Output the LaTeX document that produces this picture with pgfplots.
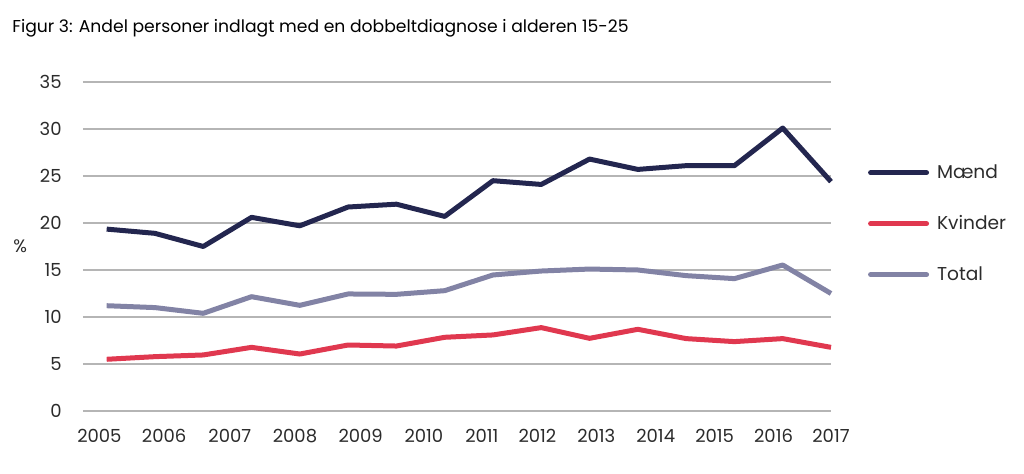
\documentclass[border=0pt]{standalone}
\usepackage{fontspec}
\setmainfont{Poppins}
\usepackage{pgfplots}
\pgfplotsset{compat=1.18}

\definecolor{maend}{HTML}{23264F}
\definecolor{kvinder}{HTML}{E0384F}
\definecolor{total}{HTML}{8283A5}
\definecolor{gridgrey}{HTML}{B5B5B5}
\definecolor{labelgrey}{HTML}{2B2B2B}

% Three series, 16 observations each, equally spaced along the x axis
\pgfplotstableread{
x  maend  kvinder total
0  19.35  5.50   11.20
1  18.90  5.78   11.00
2  17.50  5.96   10.39
3  20.60  6.77   12.16
4  19.70  6.06   11.24
5  21.70  7.02   12.45
6  22.00  6.91   12.41
7  20.70  7.84   12.80
8  24.50  8.09   14.47
9  24.10  8.87   14.89
10 26.80  7.73   15.10
11 25.70  8.69   15.00
12 26.10  7.70   14.40
13 26.10  7.38   14.08
14 30.10  7.70   15.53
15 24.40  6.77   12.50
}\datatable

\begin{document}
\begin{tikzpicture}
\useasboundingbox (0pt,0pt) rectangle (512pt,237pt);
\node[anchor=base west, inner sep=0pt, font=\fontsize{8.6}{10}\selectfont, text=black] at (6pt,220.5pt)
  {Figur 3: Andel personer indlagt med en dobbeltdiagnose i alderen 15-25};
\begin{axis}[
  at={(41.5pt,31.5pt)}, anchor=south west,
  scale only axis, width=374pt, height=164.5pt,
  xmin=-0.49, xmax=15, ymin=0, ymax=35,
  ytick={0,5,...,35},
  xtick={-0.15,1.19,2.55,3.90,5.26,6.57,7.77,8.92,10.14,11.37,12.59,13.81,15.0},
  xticklabels={2005,2006,2007,2008,2009,2010,2011,2012,2013,2014,2015,2016,2017},
  axis line style={draw=none},
  major tick length=0pt,
  tick style={draw=none},
  ymajorgrids,
  major grid style={gridgrey, line width=0.75pt},
  /pgf/number format/assume math mode=true,
  tick label style={font=\fontsize{9}{10}\selectfont, text=labelgrey},
  yticklabel style={anchor=east, inner sep=0pt, xshift=-10.5pt},
  xticklabel style={anchor=north, inner sep=0pt, yshift=-9pt},
  clip=false,
  legend cell align=left,
  legend style={draw=none, fill=none, at={(rel axis cs:1.041,0.763)}, anchor=north west,
    font=\fontsize{9.3}{10}\selectfont, row sep=17pt,
    /tikz/every even column/.append style={column sep=0pt},
    nodes={inner sep=0pt, text=labelgrey}},
  legend image code/.code={\draw[#1, line cap=round] (0pt,0pt) -- (28pt,0pt);},
  every axis plot/.append style={line width=2.5pt, line join=round},
]
\addplot[maend] table[x=x, y=maend] {\datatable};
\addlegendentry{\hspace{4pt}Mænd}
\addplot[kvinder] table[x=x, y=kvinder] {\datatable};
\addlegendentry{\hspace{4pt}Kvinder}
\addplot[total] table[x=x, y=total] {\datatable};
\addlegendentry{\hspace{4pt}Total}
\node[font=\fontsize{9}{10}\selectfont, text=labelgrey] at (rel axis cs:-0.084,0.50) {\%};
\end{axis}
\end{tikzpicture}
\end{document}
